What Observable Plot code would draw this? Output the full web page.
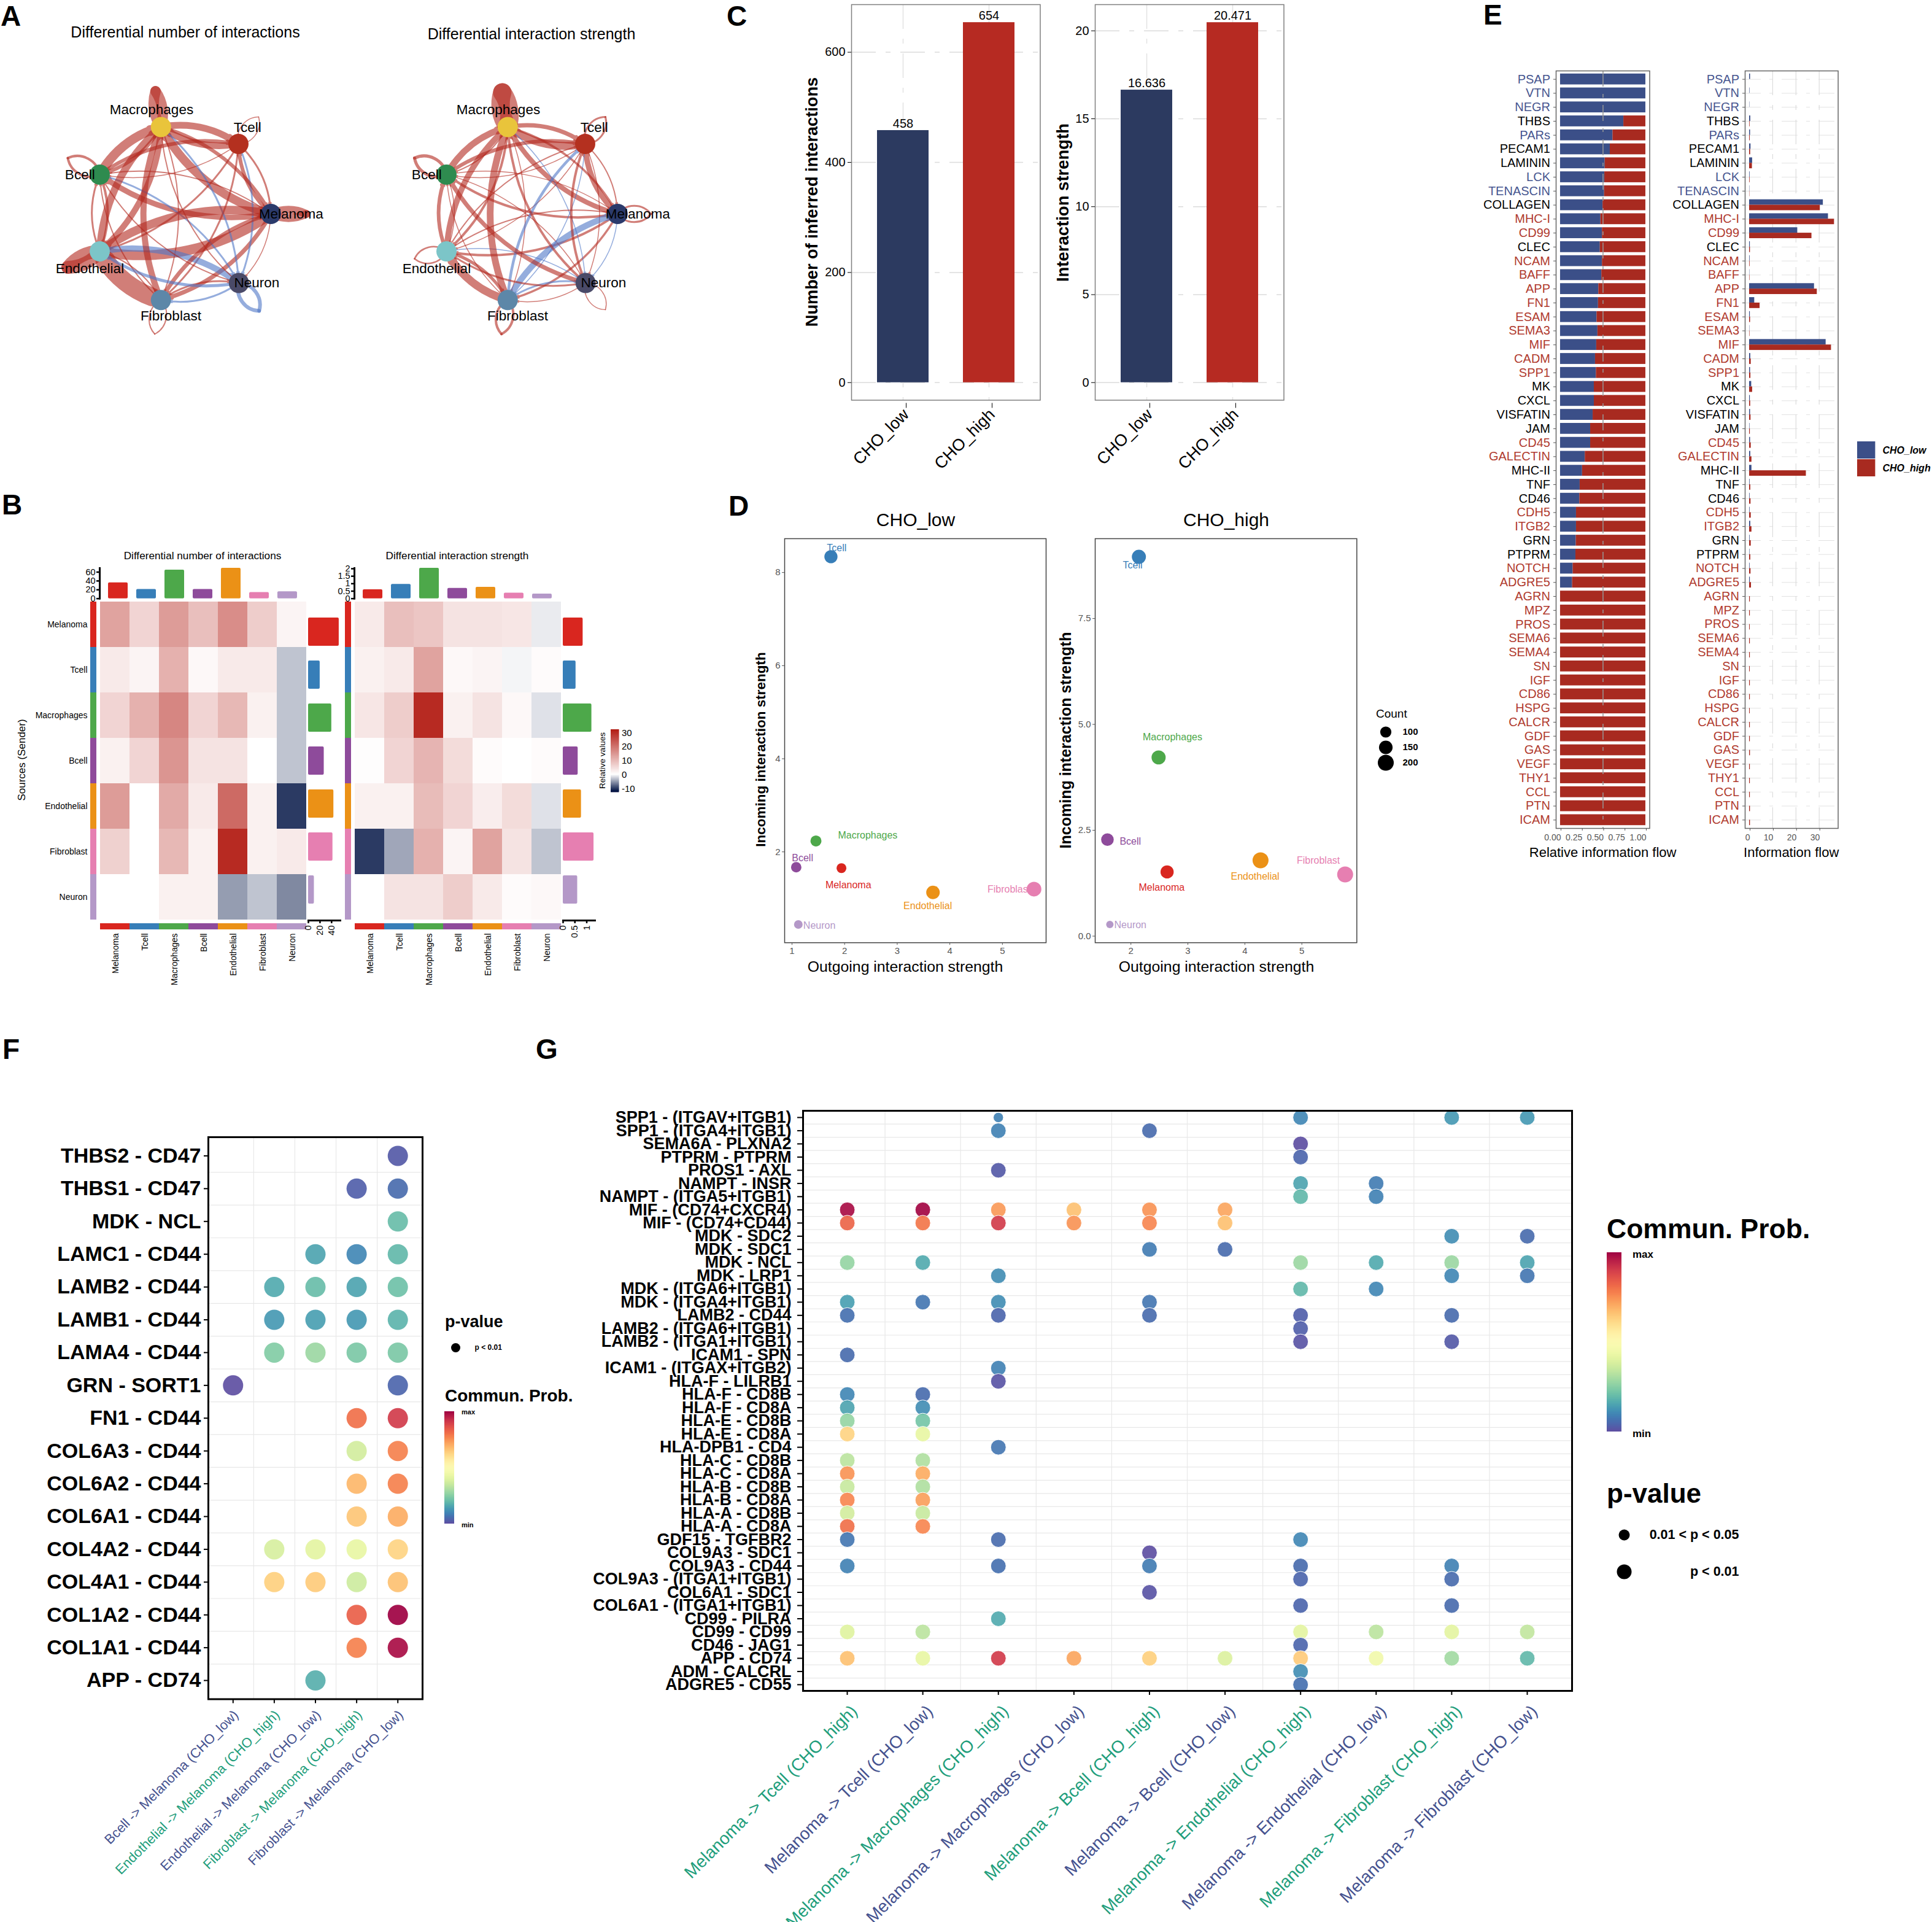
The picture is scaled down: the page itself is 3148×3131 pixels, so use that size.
<!DOCTYPE html>
<html>
<head>
<meta charset="utf-8">
<script src="https://cdn.jsdelivr.net/npm/d3@7"></script>
<script src="https://cdn.jsdelivr.net/npm/@observablehq/plot@0.6"></script>
<style>
html,body{margin:0;padding:0;background:#fff}
#root{position:relative;width:3148px;height:3131px;overflow:hidden;font-family:"Liberation Sans",Arial,sans-serif;background:#fff}
.lb{position:absolute;white-space:nowrap;line-height:1}
</style>
</head>
<body>
<div id="root"></div>
<script>
// ---------- shared categories ----------
const cellTypes = ["Melanoma","Tcell","Macrophages","Bcell","Endothelial","Fibroblast","Neuron"];
const cellColors = ["#d9261f","#377eb8","#4da84a","#8e4b9b","#eb9116","#e67fb1","#b498c8"];
const netNodeColors = ["#2b3a6b","#b4301f","#e9c43b","#2e8b4f","#7cc5c8","#5d87a8","#4a4a68"];
// ---------- panel A / B : differential matrices (row = sender, column = receiver) ----------
const numMatrix = [
 [13,6,14,9,16,7,1.5],
 [3,1.5,11,1,3,3,-3],
 [6,11,17,6,10,2,-3],
 [2,6,15,4,4,0,-3],
 [14,0,12,3,21,2,-10],
 [6.5,0,10,2,30,2,3],
 [0,0,2,2,-5,-3,-6]];
const strengthMatrix = [
 [3,9,8,4,4,3.5,-1],
 [2,3,13,1,1.5,-0.5,0.5],
 [3.5,7,30,2,4,1,-1.5],
 [0.3,6,10.5,5,0.5,0,0.5],
 [2,2,9.5,6,2.5,5,-1.5],
 [-10,-4.5,11,1.5,13,4,-3],
 [0,4,4,7,3,0.5,1]];
const numTop = [36,21,65,21,69,14,16];
const numRight = [52.8,20,40,27,43.6,42,10];
const strengthTop = [0.6,0.96,2.04,0.7,0.77,0.38,0.32];
const strengthRight = [0.84,0.54,1.21,0.63,0.77,1.3,0.61];
// circle layout of the network
const nodeX = [1.005,0.653,-0.188,-0.853,-0.853,-0.188,0.658];
const nodeY = [0,0.76,0.944,0.427,-0.407,-0.935,-0.75];
const netLabelX = [1.225,0.751,-0.29,-1.068,-0.96,-0.08,0.853];
const netLabelY = [0,0.936,1.133,0.427,-0.593,-1.112,-0.751];
const loopTipX1 = [1.39,0.873,-0.247,-1.2,-1.2,-0.256,0.878];
const loopTipY1 = [0,1.053,1.333,0.607,-0.58,-1.305,-1.053];
const loopTipX2 = [1.367,0.873,-0.247,-1.2,-1.2,-0.256,0.873];
const loopTipY2 = [0,1.053,1.32,0.607,-0.487,-1.305,-1.04];
// ---------- panel C ----------
const conditions = ["CHO_low","CHO_high"];
const condColors = ["#2c3a60","#b62a22"];
const interactionCounts = [458,654];
const interactionStrengths = [16.636,20.471];
// ---------- panel D ----------
const lowOut = [1.94,1.74,1.455,1.08,3.68,5.6,1.12];
const lowIn = [1.65,8.34,2.235,1.67,1.13,1.2,0.44];
const lowCount = [71,141,97,84,149,174,46];
const lowLabelX = [2.07,1.85,2.44,1.2,3.58,5.125,1.52];
const lowLabelY = [1.28,8.53,2.36,1.87,0.84,1.2,0.41];
const highOut = [2.635,2.14,2.486,1.588,4.275,5.76,1.63];
const highIn = [1.516,8.957,4.22,2.28,1.79,1.457,0.274];
const highCount = [141,161,161,130,200,200,20];
const highLabelX = [2.54,2.03,2.73,1.99,4.18,5.29,1.99];
const highLabelY = [1.146,8.75,4.70,2.24,1.405,1.78,0.266];
const countLevels = [100,150,200];
// ---------- panel E ----------
const pathways = ["PSAP","VTN","NEGR","THBS","PARs","PECAM1","LAMININ","LCK","TENASCIN","COLLAGEN","MHC-I","CD99","CLEC","NCAM","BAFF","APP","FN1","ESAM","SEMA3","MIF","CADM","SPP1","MK","CXCL","VISFATIN","JAM","CD45","GALECTIN","MHC-II","TNF","CD46","CDH5","ITGB2","GRN","PTPRM","NOTCH","ADGRE5","AGRN","MPZ","PROS","SEMA6","SEMA4","SN","IGF","CD86","HSPG","CALCR","GDF","GAS","VEGF","THY1","CCL","PTN","ICAM"];
const pathwayGroup = ["l","l","l","k","l","k","k","l","l","k","h","h","k","h","h","h","h","h","h","h","h","h","k","k","k","k","h","h","k","k","k","h","h","k","k","h","h","h","h","h","h","h","h","h","h","h","h","h","h","h","h","h","h","h"];
const relativeLow = [1,1,1,0.742,0.615,0.583,0.523,0.519,0.516,0.498,0.473,0.491,0.466,0.491,0.484,0.449,0.445,0.428,0.438,0.424,0.41,0.42,0.396,0.396,0.382,0.353,0.353,0.29,0.258,0.23,0.226,0.187,0.187,0.184,0.18,0.148,0.141,0,0,0,0,0,0,0,0,0,0,0,0,0,0,0,0,0];
const flowLow = [0.4,0.15,0.1,0.5,0.4,0.6,1.3,0.2,0.1,31.7,33.9,20.7,0.3,0.2,0.1,27.9,2.2,0.3,0.1,32.9,0.5,0.4,0.9,0.3,0.4,0.15,0.4,0.5,1.0,0.2,0.2,0.2,0.5,0.2,0.15,0.2,0.3,0,0,0,0,0,0,0,0,0,0,0,0,0,0,0,0,0];
const flowHigh = [0,0,0,0.2,0.25,0.45,1.2,0.2,0.1,30.4,36.5,26.8,0.35,0.2,0.15,29.1,4.5,0.4,0.15,35.2,0.7,0.55,1.3,0.45,0.6,0.3,0.7,1.0,24.4,0.5,0.6,0.7,1.0,0.7,0.5,0.6,0.8,0.3,0.3,0.25,0.3,0.3,0.25,0.3,0.3,0.25,0.3,0.3,0.35,0.3,0.3,0.3,0.35,0.35];
// ---------- panel F ----------
const fRows = ["THBS2 - CD47","THBS1 - CD47","MDK - NCL","LAMC1 - CD44","LAMB2 - CD44","LAMB1 - CD44","LAMA4 - CD44","GRN - SORT1","FN1 - CD44","COL6A3 - CD44","COL6A2 - CD44","COL6A1 - CD44","COL4A2 - CD44","COL4A1 - CD44","COL1A2 - CD44","COL1A1 - CD44","APP - CD74"];
const fCols = ["Bcell -> Melanoma (CHO_low)","Endothelial -> Melanoma (CHO_high)","Endothelial -> Melanoma (CHO_low)","Fibroblast -> Melanoma (CHO_high)","Fibroblast -> Melanoma (CHO_low)"];
const fCol1 = [[8,0]];
const fCol2 = [[5,.16],[6,.13],[7,.24],[13,.38],[14,.63]];
const fCol3 = [[4,.15],[5,.2],[6,.14],[7,.28],[13,.41],[14,.64],[17,.17]];
const fCol4 = [[2,.03],[4,.1],[5,.15],[6,.13],[7,.23],[9,.8],[10,.37],[11,.68],[12,.65],[13,.42],[14,.36],[15,.83],[16,.77]];
const fCol5 = [[1,.02],[2,.05],[3,.2],[4,.19],[5,.21],[6,.18],[7,.23],[8,.04],[9,.9],[10,.77],[11,.77],[12,.7],[13,.62],[14,.66],[15,1],[16,.98]];
// ---------- panel G ----------
const gRows = ["SPP1 - (ITGAV+ITGB1)","SPP1 - (ITGA4+ITGB1)","SEMA6A - PLXNA2","PTPRM - PTPRM","PROS1 - AXL","NAMPT - INSR","NAMPT - (ITGA5+ITGB1)","MIF - (CD74+CXCR4)","MIF - (CD74+CD44)","MDK - SDC2","MDK - SDC1","MDK - NCL","MDK - LRP1","MDK - (ITGA6+ITGB1)","MDK - (ITGA4+ITGB1)","LAMB2 - CD44","LAMB2 - (ITGA6+ITGB1)","LAMB2 - (ITGA1+ITGB1)","ICAM1 - SPN","ICAM1 - (ITGAX+ITGB2)","HLA-F - LILRB1","HLA-F - CD8B","HLA-F - CD8A","HLA-E - CD8B","HLA-E - CD8A","HLA-DPB1 - CD4","HLA-C - CD8B","HLA-C - CD8A","HLA-B - CD8B","HLA-B - CD8A","HLA-A - CD8B","HLA-A - CD8A","GDF15 - TGFBR2","COL9A3 - SDC1","COL9A3 - CD44","COL9A3 - (ITGA1+ITGB1)","COL6A1 - SDC1","COL6A1 - (ITGA1+ITGB1)","CD99 - PILRA","CD99 - CD99","CD46 - JAG1","APP - CD74","ADM - CALCRL","ADGRE5 - CD55"];
const gCols = ["Melanoma -> Tcell (CHO_high)","Melanoma -> Tcell (CHO_low)","Melanoma -> Macrophages (CHO_high)","Melanoma -> Macrophages (CHO_low)","Melanoma -> Bcell (CHO_high)","Melanoma -> Bcell (CHO_low)","Melanoma -> Endothelial (CHO_high)","Melanoma -> Endothelial (CHO_low)","Melanoma -> Fibroblast (CHO_high)","Melanoma -> Fibroblast (CHO_low)"];
const gCol1 = [[8,.98],[9,.82],[12,.27],[15,.14],[16,.06],[19,.05],[22,.1],[23,.15],[24,.27],[25,.62],[27,.33],[28,.74],[29,.35],[30,.76],[31,.37],[32,.8],[33,.07],[35,.09],[40,.4],[42,.66]];
const gCol2 = [[8,.99],[9,.79],[12,.16],[15,.07],[22,.05],[23,.11],[24,.22],[25,.42],[27,.31],[28,.7],[29,.31],[30,.72],[31,.35],[32,.76],[40,.33],[42,.42]];
const gCol3 = [[1,.09],[2,.09],[5,.02],[8,.73],[9,.9],[13,.11],[15,.11],[16,.04],[20,.09],[21,.01],[26,.07],[33,.05],[35,.06],[39,.16],[42,.9]];
const gCol4 = [[8,.66],[9,.74],[42,.71]];
const gCol5 = [[2,.05],[8,.74],[9,.76],[11,.08],[15,.07],[16,.05],[34,0],[35,.08],[37,.01],[42,.63]];
const gCol6 = [[8,.71],[9,.66],[11,.05],[42,.39]];
const gCol7 = [[1,.1],[3,0],[4,.04],[6,.15],[7,.19],[12,.28],[14,.19],[16,.03],[17,.03],[18,.01],[33,.1],[35,.05],[36,.04],[38,.04],[40,.41],[41,.04],[42,.64],[43,.11],[44,.06]];
const gCol8 = [[6,.08],[7,.09],[12,.16],[14,.1],[40,.33],[42,.45]];
const gCol9 = [[1,.13],[10,.11],[12,.28],[13,.1],[16,.05],[18,.02],[35,.09],[36,.05],[38,.05],[40,.41],[42,.29]];
const gCol10 = [[1,.13],[10,.05],[12,.15],[13,.07],[40,.34],[42,.19]];
const gMarginal = [[3,1]]; // column, row with 0.01 < p < 0.05
const pLevels = ["0.01 < p < 0.05","p < 0.01"];

// ---------- helpers ----------
const FONT = '"Liberation Sans",Arial,sans-serif';
const root = document.getElementById("root");
function panel(box, margins, opts){
  const [x0,y0,x1,y1] = box, [mt,mr,mb,ml] = margins;
  const svg = Plot.plot({
    width:x1-x0+ml+mr, height:y1-y0+mt+mb,
    marginTop:mt, marginRight:mr, marginBottom:mb, marginLeft:ml,
    style:{fontFamily:FONT, background:"transparent", overflow:"visible", maxWidth:"none"},
    ...opts});
  svg.style.position="absolute";
  svg.style.left=(x0-ml)+"px";
  svg.style.top=(y0-mt)+"px";
  root.append(svg);
  return svg;
}
function label(text,x,y,o={}){
  const d=document.createElement("div");
  d.className="lb"; d.textContent=text;
  d.style.left=x+"px"; d.style.top=y+"px";
  d.style.fontSize=(o.size||20)+"px";
  d.style.fontWeight=o.weight||"normal";
  if(o.italic) d.style.fontStyle="italic";
  d.style.color=o.color||"#000";
  const tx = o.anchor==="start"?"0":o.anchor==="end"?"-100%":"-50%";
  d.style.transform=`translate(${tx},-50%)`+(o.rotate?` rotate(${o.rotate}deg)`:"");
  root.append(d);
}
const noAxis = {axis:null,label:null};
const spectral = {type:"linear",scheme:"spectral",reverse:true,domain:[0,1]};

// ---------- panel letters ----------
[["A",1,26],["B",3,822],["C",1184,26],["D",1187,824],["E",2417,24],["F",4,1709],["G",873,1709]].forEach(([t,x,y])=>label(t,x,y,{size:46,weight:"bold",anchor:"start"}));

// ---------- panel A ----------
function network(box,matrix,tipX,tipY){
  const edges = matrix.flatMap((row,s)=>row.map((v,t)=>({s,t,v}))).filter(e=>e.v!==0);
  const between = edges.filter(e=>e.s!==e.t);
  const loops = edges.filter(e=>e.s===e.t);
  const solid = loops.filter(e=>Math.abs(e.v)>=10), open = loops.filter(e=>Math.abs(e.v)<10);
  const w = e=>Math.max(Math.abs(e.v)*1.0,1.5);
  const col = e=>e.v>0?"#b2281e":"#4f76c6";
  const loopMarks = (data,bend)=>[
    Plot.arrow(data,{x1:e=>nodeX[e.s],y1:e=>nodeY[e.s],x2:e=>tipX[e.s],y2:e=>tipY[e.s],bend,strokeWidth:w,stroke:col,strokeOpacity:.6,headLength:0}),
    Plot.arrow(data,{x1:e=>tipX[e.s],y1:e=>tipY[e.s],x2:e=>nodeX[e.s],y2:e=>nodeY[e.s],bend,strokeWidth:w,stroke:col,strokeOpacity:.6,headLength:0})];
  panel(box,[0,0,0,0],{
    x:{...noAxis,domain:[-1.533,1.533]}, y:{...noAxis,domain:[-1.667,1.667]}, color:{type:"identity"},
    marks:[
      loopMarks(solid,26),
      loopMarks(open,52),
      Plot.arrow(between,{x1:e=>nodeX[e.s],y1:e=>nodeY[e.s],x2:e=>nodeX[e.t],y2:e=>nodeY[e.t],bend:23,inset:15,strokeWidth:w,stroke:col,strokeOpacity:.6,headLength:5,headAngle:50}),
      Plot.dot(cellTypes,{x:(d,i)=>nodeX[i],y:(d,i)=>nodeY[i],r:16.5,fill:(d,i)=>netNodeColors[i]}),
      Plot.text(cellTypes,{x:(d,i)=>netLabelX[i],y:(d,i)=>netLabelY[i],text:d=>d,fontSize:22.5,fill:"#000"})
    ]});
}
network([60,98,520,598],numMatrix,loopTipX1,loopTipY1);
network([624.7,98,1084.7,598],strengthMatrix,loopTipX2,loopTipY2);
label("Differential number of interactions",302,52,{size:25});
label("Differential interaction strength",866,55,{size:25});

// ---------- panel B ----------
const heatScale = {type:"linear",domain:[-10,0,30],range:["#2b3a63","#ffffff","#b72a22"]};
const colorOf = Object.fromEntries(cellTypes.map((c,i)=>[c,cellColors[i]]));
function heat(left,matrix,top,topTicks,topMax,right,rightTicks,rightMax,rowLabels){
  const right0 = left+337, cell = matrix.flatMap((r,i)=>r.map((v,j)=>({s:cellTypes[i],t:cellTypes[j],v})));
  const xB = {...noAxis,type:"band",domain:cellTypes,padding:0};
  const yB = {...noAxis,type:"band",domain:cellTypes,padding:0};
  panel([left,979,right0,1499],[0,0,0,0],{x:xB,y:yB,color:heatScale,marks:[
    Plot.cell(cell,{x:"t",y:"s",fill:"v"})]});
  // sender strip
  panel([left-15,979,left-5,1499],[0,0,0,rowLabels?110:0],{y:yB,x:noAxis,color:{type:"identity"},marks:[
    Plot.cell(cellTypes,{y:d=>d,fill:d=>colorOf[d]}),
    rowLabels?Plot.text(cellTypes,{y:d=>d,frameAnchor:"left",textAnchor:"end",dx:-5,text:d=>d,fontSize:14,fill:"#000"}):null]});
  // receiver strip and labels
  panel([left,1503.5,right0,1513.5],[0,0,100,0],{x:xB,y:noAxis,color:{type:"identity"},marks:[
    Plot.cell(cellTypes,{x:d=>d,fill:d=>colorOf[d]}),
    Plot.text(cellTypes,{x:d=>d,frameAnchor:"bottom",rotate:-90,textAnchor:"end",dy:6,dx:5,text:d=>d,fontSize:14,fill:"#000"})]});
  // top bars
  panel([left,925,right0,974.7],[0,0,0,36],{
    x:{...noAxis,type:"band",domain:cellTypes,padding:0.3},
    y:{label:null,domain:[0,topMax]},color:{type:"identity"},marks:[
    Plot.barY(cellTypes,{x:d=>d,y:(d,i)=>top[i],fill:d=>colorOf[d],rx:2}),
    Plot.frame({anchor:"left",stroke:"#000",strokeWidth:3}),
    Plot.axisY(topTicks,{tickFormat:d=>String(d),tickSize:5,fontSize:14.5,label:null,strokeWidth:2.5,tickPadding:2})]});
  // right bars
  panel([right0+3,979,right0+55,1499],[0,0,30,0],{
    y:{...noAxis,type:"band",domain:cellTypes,padding:0.35},
    x:{label:null,domain:[0,rightMax]},color:{type:"identity"},marks:[
    Plot.barX(cellTypes,{y:d=>d,x:(d,i)=>right[i],fill:d=>colorOf[d],rx:2}),
    Plot.frame({anchor:"bottom",stroke:"#000",strokeWidth:3}),
    Plot.axisX(rightTicks,{tickFormat:d=>String(d),tickSize:5,fontSize:14.5,label:null,strokeWidth:2.5,tickRotate:-90,tickPadding:3})]});
}
heat(162,numMatrix,numTop,[0,20,40,60],69,numRight,[0,20,40],55,true);
heat(577,strengthMatrix,strengthTop,[0,0.5,1,1.5,2],2.04,strengthRight,[0,0.5,1],1.35,false);
label("Differential number of interactions",330,906,{size:17.2});
label("Differential interaction strength",745,906,{size:17.2});
label("Sources (Sender)",35,1238,{size:17,rotate:-90});
label("Relative values",982,1238.5,{size:13.6,rotate:-90});
const heatLegendStops = d3.range(-12.5,32.3,0.5);
panel([994.6,1187.5,1008,1290],[0,30,0,0],{
  x:{...noAxis,domain:[0,1]},y:{label:null,domain:[-12.5,32.3]},color:heatScale,marks:[
  Plot.rect(heatLegendStops,{x1:0,x2:1,y1:d=>d,y2:d=>Math.min(d+1,32.3),fill:d=>d}),
  Plot.axisY([-10,0,10,20,30],{anchor:"right",tickSize:0,fontSize:15,label:null,tickPadding:4,tickFormat:d=>String(d)})]});

// ---------- panel C ----------
function barPanel(box,values,ticks,yDomain){
  panel(box,[0,0,130,60],{
    x:{type:"band",domain:conditions,paddingInner:0.4,paddingOuter:0.298,label:null},
    y:{domain:yDomain,label:null},color:{type:"identity"},
    marks:[
      Plot.ruleY(ticks,{stroke:"#dcdcdc",strokeWidth:1.5,strokeDasharray:"40 16 8 16"}),
      Plot.ruleX(conditions,{stroke:"#e2e2e2",strokeWidth:1.5,strokeDasharray:"40 16 8 16"}),
      Plot.barY(conditions,{x:d=>d,y:(d,i)=>values[i],fill:(d,i)=>condColors[i]}),
      Plot.text(conditions,{x:d=>d,y:(d,i)=>values[i],text:(d,i)=>String(values[i]),dy:-11,fontSize:20,fill:"#000"}),
      Plot.frame({stroke:"#7f7f7f",strokeWidth:1.5}),
      Plot.axisY(ticks,{tickSize:6,fontSize:20,label:null,tickPadding:4}),
      Plot.axisX({tickRotate:-45,fontSize:27,tickSize:8,label:null,tickPadding:6,dx:5,dy:5})
    ]});
}
barPanel([1387,6.6,1694.5,651],interactionCounts,[0,200,400,600],[-31.9,686.5]);
barPanel([1784,6.6,2091.5,651],interactionStrengths,[0,5,10,15,20],[-1,21.49]);
label("Number of inferred interactions",1322.6,328.6,{size:27.2,weight:"bold",rotate:-90});
label("Interaction strength",1732,330,{size:27.5,weight:"bold",rotate:-90});

// ---------- panel D ----------
const rScale = {type:"linear",domain:[20,200],range:[6,13],clamp:true};
function scatter(box,xs,ys,counts,lx,ly,xDom,yDom,xTicks,yTicks,yFmt){
  panel(box,[0,0,40,40],{
    x:{domain:xDom,label:null},y:{domain:yDom,label:null},r:rScale,color:{type:"identity"},
    marks:[
      Plot.text(cellTypes,{x:(d,i)=>lx[i],y:(d,i)=>ly[i],text:d=>d,fontSize:16,fill:d=>colorOf[d]}),
      Plot.dot(cellTypes,{x:(d,i)=>xs[i],y:(d,i)=>ys[i],r:(d,i)=>counts[i],fill:d=>colorOf[d]}),
      Plot.frame({stroke:"#444",strokeWidth:1.5}),
      Plot.axisX(xTicks,{tickSize:4,fontSize:15,color:"#555",label:null,tickPadding:4}),
      Plot.axisY(yTicks,{tickSize:4,fontSize:15,color:"#555",label:null,tickPadding:3,tickFormat:yFmt})
    ]});
}
scatter([1278,876.5,1704,1534.7],lowOut,lowIn,lowCount,lowLabelX,lowLabelY,[0.86,5.83],[0.049,8.727],[1,2,3,4,5],[2,4,6,8],d=>d);
scatter([1783.7,876.5,2210,1534.7],highOut,highIn,highCount,highLabelX,highLabelY,[1.373,5.965],[-0.155,9.386],[2,3,4,5],[0,2.5,5,7.5],d3.format(".1f"));
label("CHO_low",1492,847,{size:30});
label("CHO_high",1998,847,{size:30});
label("Outgoing interaction strength",1475,1575,{size:24.8});
label("Outgoing interaction strength",1982,1575,{size:24.8});
label("Incoming interaction strength",1240,1221,{size:22.5,weight:"bold",rotate:-90});
label("Incoming interaction strength",1735.5,1206,{size:25,weight:"bold",rotate:-90});
label("Count",2242,1162,{size:19,anchor:"start"});
panel([2245,1179,2310,1255.5],[0,0,0,0],{
  x:noAxis,y:{...noAxis,type:"point",domain:countLevels,padding:0.5},r:rScale,marks:[
  Plot.dot(countLevels,{y:d=>d,r:d=>d,fill:"#000",frameAnchor:"left",dx:12.5}),
  Plot.text(countLevels,{y:d=>d,text:d=>String(d),frameAnchor:"right",fontSize:15,fontWeight:"bold",fill:"#000"})]});

// ---------- panel E ----------
const rowIdx = pathways.map((d,i)=>i);
const groupColor = {l:"#46558f",k:"#000000",h:"#b03a2e"};
const lowBlue = "#3b4f88", highRed = "#a82a20";
const eY = {domain:[53.6,-0.6],axis:null,label:null};
function eAxis(ticks,fmt){
  return Plot.axisX(ticks,{tickSize:4,fontSize:14,color:"#555",label:null,tickFormat:fmt,textAnchor:"end",tickPadding:6,dx:1});
}
panel([2535,115,2687.5,1349],[0,0,30,120],{
  x:{domain:[-0.05,1.047],label:null},y:eY,color:{type:"identity"},marks:[
  Plot.rect(rowIdx,{x1:0,x2:i=>relativeLow[i],y1:i=>i-0.39,y2:i=>i+0.39,fill:lowBlue}),
  Plot.rect(rowIdx,{x1:i=>relativeLow[i],x2:1,y1:i=>i-0.39,y2:i=>i+0.39,fill:highRed}),
  Plot.ruleX([0.5],{stroke:"#999",strokeWidth:1.5,strokeDasharray:"26 12 6 12"}),
  Plot.frame({stroke:"#666",strokeWidth:1.5}),
  Plot.text(rowIdx,{y:i=>i,frameAnchor:"left",dx:-9.5,textAnchor:"end",text:i=>pathways[i],fontSize:20,fill:i=>groupColor[pathwayGroup[i]]}),
  Plot.axisY(rowIdx,{tickSize:4,tickFormat:()=>"",label:null,stroke:"#555"}),
  eAxis([0,0.25,0.5,0.75,1],d3.format(".2f"))
]});
panel([2843,115,2994.6,1349],[0,0,30,120],{
  x:{domain:[-1.85,38.15],label:null},y:eY,color:{type:"identity"},marks:[
  Plot.ruleY(rowIdx,{stroke:"#e2e2e2",strokeDasharray:"26 14 6 14"}),
  Plot.ruleX([10,20,30],{stroke:"#dcdcdc",strokeWidth:1.2,strokeDasharray:"40 16 8 16"}),
  Plot.rect(rowIdx,{x1:0,x2:i=>flowLow[i],y1:i=>i-0.39,y2:i=>i,fill:lowBlue}),
  Plot.rect(rowIdx,{x1:0,x2:i=>flowHigh[i],y1:i=>i,y2:i=>i+0.39,fill:highRed}),
  Plot.frame({stroke:"#666",strokeWidth:1.5}),
  Plot.text(rowIdx,{y:i=>i,frameAnchor:"left",dx:-9.5,textAnchor:"end",text:i=>pathways[i],fontSize:20,fill:i=>groupColor[pathwayGroup[i]]}),
  Plot.axisY(rowIdx,{tickSize:4,tickFormat:()=>"",label:null,stroke:"#555"}),
  eAxis([0,10,20,30],d=>d)
]});
label("Relative information flow",2611.6,1388.7,{size:22});
label("Information flow",2918.7,1388.7,{size:22});
panel([3026.4,717,3148,778],[0,0,0,0],{
  x:{...noAxis,domain:[0,121.6]},
  y:{...noAxis,type:"band",domain:conditions,padding:0.05},color:{type:"identity"},marks:[
  Plot.barX(conditions,{y:d=>d,x1:0,x2:29.4,fill:(d,i)=>[lowBlue,highRed][i]}),
  Plot.text(conditions,{y:d=>d,text:d=>d,frameAnchor:"left",dx:41,textAnchor:"start",fontSize:16,fontWeight:"bold",fontStyle:"italic",fill:"#000"})]});

// ---------- bubble panels F, G ----------
const bubbleColors = {high:"#1f9e7c",low:"#45528f"};
function bubble(box,margins,rows,cols,columns,o){
  const table = columns.flatMap((c,k)=>c.map(([row,v])=>({col:k+1,row,v})));
  const xi = cols.map((d,i)=>i+1), yi = rows.map((d,i)=>i+1);
  const isHigh = i=>cols[i-1].includes("high");
  panel(box,margins,{
    x:{domain:o.xDomain,label:null},y:{domain:o.yDomain,label:null},color:spectral,r:{type:"identity"},
    marks:[
      Plot.ruleX(xi.slice(0,-1).map(d=>d+0.5),{stroke:"#e8e8e8",strokeWidth:1.2}),
      Plot.ruleY(yi.slice(0,-1).map(d=>d+0.5),{stroke:"#e8e8e8",strokeWidth:1.2}),
      Plot.dot(table,{x:"col",y:"row",fill:"v",fillOpacity:.92,
        r:d=>o.small&&o.small.some(([c,r])=>c===d.col&&r===d.row)?o.r*0.66:o.r,
        stroke:o.halo||"none",strokeWidth:1}),
      Plot.frame({stroke:"#000",strokeWidth:3}),
      Plot.axisY(yi,{tickFormat:i=>rows[i-1],tickSize:o.tick,fontSize:o.yFont,fontWeight:"bold",label:null,tickPadding:o.pad,strokeWidth:2}),
      Plot.axisX(xi,{tickFormat:()=>"",tickSize:7,label:null,strokeWidth:2}),
      Plot.text(xi.filter(isHigh),{x:d=>d,text:i=>cols[i-1],frameAnchor:"bottom",rotate:-45,textAnchor:"end",dx:o.dx,dy:o.dy,fontSize:o.xFont,fill:bubbleColors.high}),
      Plot.text(xi.filter(i=>!isHigh(i)),{x:d=>d,text:i=>cols[i-1],frameAnchor:"bottom",rotate:-45,textAnchor:"end",dx:o.dx,dy:o.dy,fontSize:o.xFont,fill:bubbleColors.low})
    ]});
}
function colorBar(box){
  panel(box,[0,0,0,0],{x:{...noAxis,domain:[0,1]},y:{...noAxis,domain:[0,1]},color:spectral,marks:[
    Plot.rect(d3.range(0,1,0.005),{x1:0,x2:1,y1:d=>d,y2:d=>Math.min(d+0.012,1),fill:d=>d})]});
}
bubble([339,1851.5,688,2767],[0,0,300,340],fRows,fCols,[fCol1,fCol2,fCol3,fCol4,fCol5],
  {xDomain:[0.4,5.6],yDomain:[17.57,0.43],r:16.5,yFont:34,xFont:22,dx:10,dy:27,tick:7,pad:5});
label("p-value",725,2153,{size:27,weight:"bold",anchor:"start"});
label("Commun. Prob.",725,2274,{size:28,weight:"bold",anchor:"start"});
colorBar([724,2299,740,2482]);
label("max",752,2300,{size:11,weight:"bold",anchor:"start"});
label("min",752,2484,{size:11,weight:"bold",anchor:"start"});
panel([725,2180,825,2210],[0,0,0,0],{x:noAxis,y:{...noAxis,type:"point",domain:["p < 0.01"],padding:0.5},marks:[
  Plot.dot(["p < 0.01"],{y:d=>d,r:7.5,fill:"#000",frameAnchor:"left",dx:17}),
  Plot.text(["p < 0.01"],{y:d=>d,text:d=>d,frameAnchor:"left",dx:48,textAnchor:"start",fontSize:12,fontWeight:"bold",fill:"#000"})]});

bubble([1308,1809,2561,2754],[0,0,380,330],gRows,gCols,[gCol1,gCol2,gCol3,gCol4,gCol5,gCol6,gCol7,gCol8,gCol9,gCol10],
  {xDomain:[0.415,10.593],yDomain:[44.47,0.49],r:12.5,yFont:27,xFont:28,dx:18,dy:35,small:gMarginal,halo:"#fff",tick:9,pad:10});
label("Commun. Prob.",2618,2002,{size:44.5,weight:"bold",anchor:"start"});
colorBar([2618,2040,2642,2332]);
label("max",2660,2043,{size:17,weight:"bold",anchor:"start"});
label("min",2660,2335,{size:17,weight:"bold",anchor:"start"});
label("p-value",2618,2433,{size:44,weight:"bold",anchor:"start"});
panel([2610,2470,2833,2590],[0,0,0,0],{x:noAxis,y:{...noAxis,type:"point",domain:pLevels,padding:0.5},r:{type:"identity"},marks:[
  Plot.dot(pLevels,{y:d=>d,r:(d,i)=>[9,12][i],fill:"#000",frameAnchor:"left",dx:36}),
  Plot.text(pLevels,{y:d=>d,text:d=>d,frameAnchor:"right",fontSize:21.5,fontWeight:"bold",fill:"#000"})]});
</script>
</body>
</html>
